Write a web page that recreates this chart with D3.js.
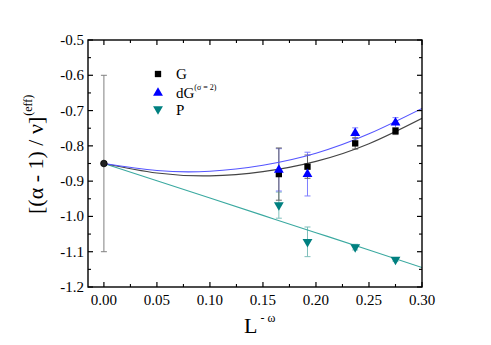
<!DOCTYPE html>
<html><head><meta charset="utf-8">
<script src="https://cdn.jsdelivr.net/npm/d3@7"></script>
<style>body{margin:0;background:#fff}svg{display:block}text{font-family:"Liberation Serif","Times New Roman",serif}</style>
</head><body>
<svg id="c" width="491" height="345"></svg>
<script>
// ---- data ----
const xTicks = [0.00, 0.05, 0.10, 0.15, 0.20, 0.25, 0.30];
const xTickLabels = ["0.00","0.05","0.10","0.15","0.20","0.25","0.30"];
const yTicks = [-0.5,-0.6,-0.7,-0.8,-0.9,-1.0,-1.1,-1.2];
const yTickLabels = ["-0.5","-0.6","-0.7","-0.8","-0.9","-1.0","-1.1","-1.2"];

const xL = [0.165, 0.192, 0.237, 0.275];
const gY   = [-0.880, -0.859, -0.793, -0.758];
const gErr = [0.074, 0.033, 0.016, 0.010];
const dgY   = [-0.868, -0.880, -0.764, -0.734];
const dgErr = [0.060, 0.062, 0.015, 0.014];
const pY   = [-0.968, -1.072, -1.087, -1.122];
const pErr = [0.037, 0.042, 0.008, 0.005];

const x0Point = [0.0];
const y0Point = [-0.85];
const y0Err = [0.25];

// fitted curves
const fitX  = [0.00, 0.05, 0.10, 0.15, 0.20, 0.25, 0.30];
const fitG  = [-0.850, -0.877, -0.885, -0.873, -0.844, -0.794, -0.722];
const fitDG = [-0.850, -0.870, -0.872, -0.855, -0.821, -0.766, -0.694];
const fitP  = [-0.850, -0.899, -0.948, -0.997, -1.046, -1.095, -1.145];

// ---- drawing ----
const svg = d3.select("#c");
const L = 88, R = 422, T = 40, B = 287;
const x = d3.scaleLinear().domain([-0.015, 0.30]).range([L, R]);
const y = d3.scaleLinear().domain([-1.2, -0.5]).range([B, T]);

svg.append("defs").append("clipPath").attr("id","clip")
  .append("rect").attr("x",L).attr("y",T).attr("width",R-L).attr("height",B-T);

const plot = svg.append("g").attr("clip-path","url(#clip)");

function errBars(xs, ys, es, color, cap){
  const g = plot.append("g").attr("stroke", color).attr("stroke-width", 1).attr("fill","none");
  xs.forEach((xv,i)=>{
    const px = x(xv), y1 = y(ys[i]+es[i]), y2 = y(ys[i]-es[i]);
    g.append("line").attr("x1",px).attr("x2",px).attr("y1",y1).attr("y2",y2);
    g.append("line").attr("x1",px-cap).attr("x2",px+cap).attr("y1",y1).attr("y2",y1);
    g.append("line").attr("x1",px-cap).attr("x2",px+cap).attr("y1",y2).attr("y2",y2);
  });
}
errBars(x0Point, y0Point, y0Err, "#808080", 3);
errBars(xL, pY, pErr, "#7fbfbb", 3);
errBars(xL, dgY, dgErr, "#7f7fff", 3);
errBars(xL, gY, gErr, "#666666", 3);

const line = (ys)=> d3.line().x((d,i)=>x(fitX[i])).y(d=>y(d)).curve(d3.curveNatural)(ys);
plot.append("path").attr("d", line(fitP)).attr("fill","none").attr("stroke","#3aa9a0").attr("stroke-width",1.1);
plot.append("path").attr("d", line(fitG)).attr("fill","none").attr("stroke","#444").attr("stroke-width",1.1);
plot.append("path").attr("d", line(fitDG)).attr("fill","none").attr("stroke","#5555ff").attr("stroke-width",1.1);

const sq = d3.symbol().type(d3.symbolSquare).size(40);
const triUp = d3.symbol().type(d3.symbolTriangle).size(42);
function markers(xs, ys, sym, color, rot){
  plot.append("g").selectAll("path").data(xs).join("path")
    .attr("d", sym)
    .attr("transform",(d,i)=>`translate(${x(d)},${y(ys[i])}) rotate(${rot})`)
    .attr("fill", color);
}
markers(xL, pY, triUp, "#008080", 180);
markers(xL, gY, sq, "#000", 0);
markers(xL, dgY, triUp, "#0000ff", 0);

plot.append("g").selectAll("circle").data(x0Point).join("circle")
  .attr("cx", d=>x(d)).attr("cy",(d,i)=>y(y0Point[i])).attr("r",3.3)
  .attr("fill","#222").attr("stroke","#000").attr("stroke-width",0.8);

const ax = svg.append("g").attr("stroke","#000").attr("fill","none");
ax.append("rect").attr("x",L).attr("y",T).attr("width",R-L).attr("height",B-T).attr("stroke-width",1.4);

const xMinor = xTicks.slice(0,-1).map((d,i)=>(d+xTicks[i+1])/2);
const yMinor = yTicks.slice(0,-1).map((d,i)=>(d+yTicks[i+1])/2);
xTicks.forEach(d=>{
  ax.append("line").attr("x1",x(d)).attr("x2",x(d)).attr("y1",B).attr("y2",B-5).attr("stroke-width",1.2);
  ax.append("line").attr("x1",x(d)).attr("x2",x(d)).attr("y1",T).attr("y2",T+5).attr("stroke-width",1.2);
});
xMinor.forEach(d=>{
  ax.append("line").attr("x1",x(d)).attr("x2",x(d)).attr("y1",B).attr("y2",B-3).attr("stroke-width",1.1);
  ax.append("line").attr("x1",x(d)).attr("x2",x(d)).attr("y1",T).attr("y2",T+3).attr("stroke-width",1.1);
});
yTicks.forEach(d=>{
  ax.append("line").attr("x1",L).attr("x2",L+5).attr("y1",y(d)).attr("y2",y(d)).attr("stroke-width",1.2);
  ax.append("line").attr("x1",R).attr("x2",R-5).attr("y1",y(d)).attr("y2",y(d)).attr("stroke-width",1.2);
});
yMinor.forEach(d=>{
  ax.append("line").attr("x1",L).attr("x2",L+3).attr("y1",y(d)).attr("y2",y(d)).attr("stroke-width",1.1);
  ax.append("line").attr("x1",R).attr("x2",R-3).attr("y1",y(d)).attr("y2",y(d)).attr("stroke-width",1.1);
});

const tl = svg.append("g").attr("font-size","15px").attr("fill","#000");
xTicks.forEach((d,i)=>{
  tl.append("text").attr("x",x(d)).attr("y",305).attr("text-anchor","middle").text(xTickLabels[i]);
});
yTicks.forEach((d,i)=>{
  tl.append("text").attr("x",84).attr("y",y(d)+5).attr("text-anchor","end").text(yTickLabels[i]);
});

const xt = svg.append("text").attr("x",244).attr("y",333).attr("font-size","22px");
xt.append("tspan").text("L");
xt.append("tspan").attr("font-size","12px").attr("dx","3").attr("dy","-11").text("- ω");

const yt = svg.append("text").attr("transform","translate(43,214) rotate(-90)").attr("font-size","22px");
yt.append("tspan").text("[(α - 1) / ν]");
yt.append("tspan").attr("font-size","12px").attr("dx","1").attr("dy","-11").text("(eff)");

const lg = svg.append("g");
lg.append("path").attr("d", sq).attr("transform","translate(158,74)").attr("fill","#000");
lg.append("path").attr("d", triUp).attr("transform","translate(158,93)").attr("fill","#0000ff");
lg.append("path").attr("d", triUp).attr("transform","translate(158,109) rotate(180)").attr("fill","#008080");
lg.append("text").attr("x",176).attr("y",79).attr("font-size","15px").text("G");
const dgt = lg.append("text").attr("x",176).attr("y",98).attr("font-size","15px");
dgt.append("tspan").text("dG");
dgt.append("tspan").attr("font-size","8px").attr("dy","-8").text("(σ = 2)");
lg.append("text").attr("x",176).attr("y",115).attr("font-size","15px").text("P");
</script>
</body></html>
